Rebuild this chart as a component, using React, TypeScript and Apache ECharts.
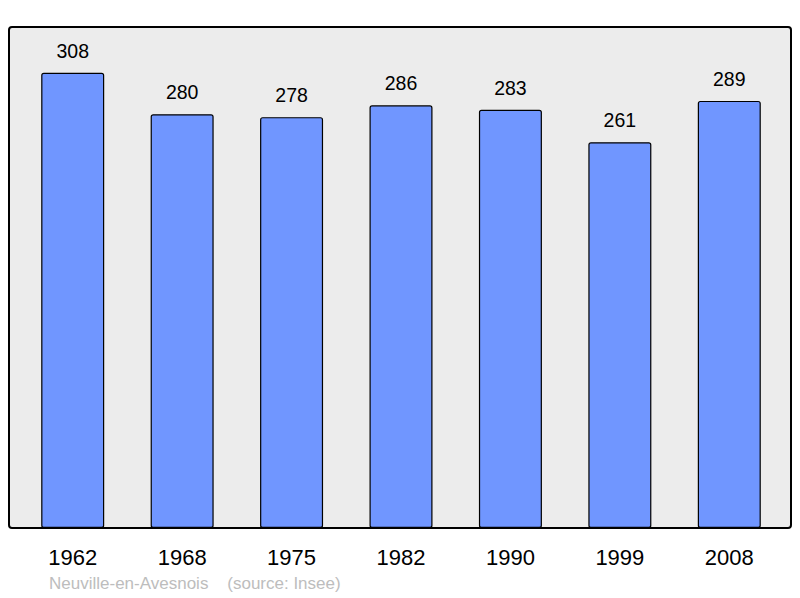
import React, { useEffect, useRef } from "react";
import * as echarts from "echarts";

const years = ["1962", "1968", "1975", "1982", "1990", "1999", "2008"];
const population = [308, 280, 278, 286, 283, 261, 289];
const placeName = "Neuville-en-Avesnois";
const sourceText = "(source: Insee)";

export default function App() {
  const ref = useRef<HTMLDivElement>(null);
  useEffect(() => {
    const chart = echarts.init(ref.current!, null, { renderer: "svg" });
    chart.setOption({
      animation: false,
      backgroundColor: "#ffffff",
      textStyle: { fontFamily: "Liberation Sans, Arial, sans-serif" },
      graphic: [
        {
          type: "rect",
          z: -10,
          shape: { x: 9, y: 27, width: 782, height: 501, r: 3 },
          style: { fill: "#ececec", stroke: "#000", lineWidth: 2 },
        },
        {
          type: "text",
          left: 49,
          top: 575,
          style: {
            text: placeName + "    " + sourceText,
            fill: "#bdbdbd",
            fontSize: 17,
            fontFamily: "Liberation Sans, Arial, sans-serif",
          },
        },
      ],
      grid: { left: 18, width: 766, top: 27, bottom: 70, containLabel: false },
      xAxis: {
        type: "category",
        data: years,
        axisLine: { show: false },
        axisTick: { show: false },
        axisLabel: { color: "#000", fontSize: 22, margin: 18 },
      },
      yAxis: {
        type: "value",
        min: 0,
        max: 339,
        show: false,
        splitLine: { show: false },
      },
      series: [
        {
          type: "bar",
          data: population,
          barWidth: 63,
          itemStyle: { color: "#7096ff", borderColor: "#000", borderWidth: 1.2, borderRadius: 2 },
          label: {
            show: true,
            position: "top",
            distance: 12,
            color: "#000",
            fontSize: 19.5,
          },
        },
      ],
    });
    return () => chart.dispose();
  }, []);
  return <div ref={ref} style={{ width: 800, height: 598, position: "absolute", left: 0, top: 0 }} />;
}
